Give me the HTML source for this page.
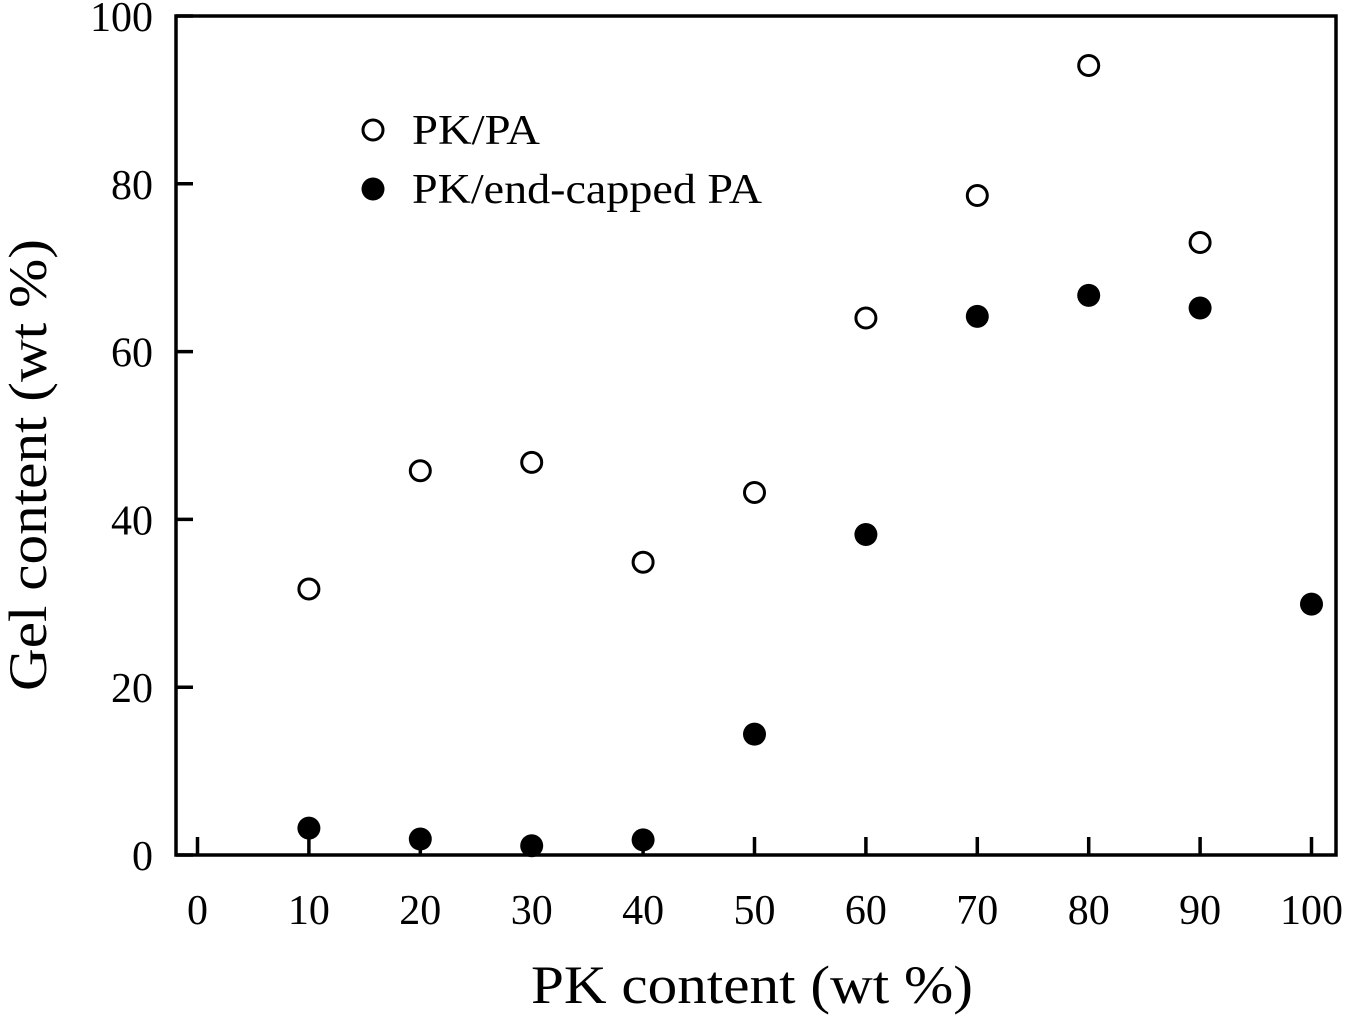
<!DOCTYPE html>
<html><head><meta charset="utf-8"><style>
html,body{margin:0;padding:0;background:#fff;}
svg{display:block;font-family:"Liberation Serif",serif;}
</style></head><body>
<svg id="chart" width="1347" height="1025" viewBox="0 0 1347 1025" xmlns="http://www.w3.org/2000/svg">
<rect x="176" y="16" width="1160" height="839" fill="none" stroke="#000" stroke-width="3.5"/>
<g id="ticks"></g>
<g id="marks"></g>
<text x="531" y="1003" font-size="54" textLength="442" lengthAdjust="spacingAndGlyphs">PK content (wt %)</text>
<text transform="translate(46,465) rotate(-90)" text-anchor="middle" font-size="54" textLength="452" lengthAdjust="spacingAndGlyphs">Gel content (wt %)</text>
<g>
<circle cx="373" cy="130" r="10" fill="#fff" stroke="#000" stroke-width="3"/>
<text x="412" y="144" font-size="42" textLength="128" lengthAdjust="spacingAndGlyphs">PK/PA</text>
<circle cx="373" cy="189" r="11.5" fill="#000"/>
<text x="412" y="203" font-size="42" textLength="350" lengthAdjust="spacingAndGlyphs">PK/end-capped PA</text>
</g>
</svg>
<script>
const xTicks = [0,10,20,30,40,50,60,70,80,90,100];
const yTicks = [0,20,40,60,80,100];
const openX = [10,20,30,40,50,60,70,80,90];
const openY = [31.7,45.8,46.8,34.9,43.2,64.0,78.6,94.1,73.0];
const filledX = [10,20,30,40,50,60,70,80,90,100];
const filledY = [3.2,1.9,1.1,1.8,14.4,38.2,64.2,66.7,65.2,29.9];
const NS = "http://www.w3.org/2000/svg";
function sx(v){return 197.5 + v*11.14;}
function sy(v){return 855 - v*8.39;}
const tg = document.getElementById('ticks');
const mg = document.getElementById('marks');
function mk(tag, attrs, parent){const e=document.createElementNS(NS,tag);for(const k in attrs)e.setAttribute(k,attrs[k]);parent.appendChild(e);return e;}
xTicks.forEach(v=>{
  const l=mk('line',{x1:sx(v),x2:sx(v),y1:855,y2:837,stroke:'#000','stroke-width':3.5},tg);
  
  
  const t=mk('text',{x:sx(v),y:924,'text-anchor':'middle','font-size':42},tg);
  t.textContent=v;
  
  
});
yTicks.forEach(v=>{
  const l=mk('line',{x1:176,x2:193,y1:sy(v),y2:sy(v),stroke:'#000','stroke-width':3.5},tg);
  
  
  const t=mk('text',{x:153,y:sy(v)+15,'text-anchor':'end','font-size':42},tg);
  t.textContent=v;
  
  
});
openX.forEach((x,i)=>{
  const c=mk('circle',{cx:sx(x),cy:sy(openY[i]),r:10,fill:'#fff',stroke:'#000','stroke-width':3},mg);
  
  
});
filledX.forEach((x,i)=>{
  const c=mk('circle',{cx:sx(x),cy:sy(filledY[i]),r:11.5,fill:'#000'},mg);
  
  
});
</script>
</body></html>
